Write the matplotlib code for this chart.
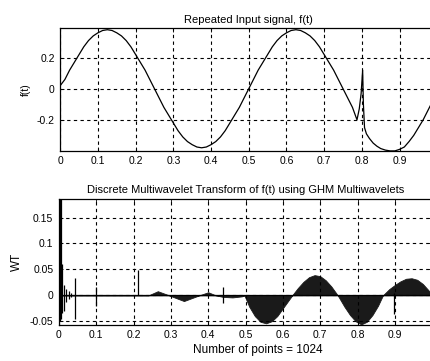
import matplotlib
matplotlib.use("Agg")
from matplotlib import pyplot as plt

plt.rcParams['font.family'] = ['Liberation Sans', 'DejaVu Sans']
plt.rcParams['font.size'] = 7.5

# Repeated input signal f(t)
sig_t = [0.0, 0.0125, 0.025, 0.0375, 0.05, 0.0625, 0.075, 0.0875, 0.1, 0.1125,
         0.125, 0.1375, 0.15, 0.1625, 0.175, 0.1875, 0.2, 0.2125, 0.225, 0.2375,
         0.25, 0.2625, 0.275, 0.2875, 0.3, 0.3125, 0.325, 0.3375, 0.35, 0.3625,
         0.375, 0.3875, 0.4, 0.4125, 0.425, 0.4375, 0.45, 0.4625, 0.475, 0.4875,
         0.5, 0.5125, 0.525, 0.5375, 0.55, 0.5625, 0.575, 0.5875, 0.6, 0.6125,
         0.625, 0.6375, 0.65, 0.6625, 0.675, 0.6875, 0.7, 0.7125, 0.725, 0.7375,
         0.75, 0.7625, 0.775, 0.787, 0.793, 0.798, 0.802, 0.804, 0.807, 0.812,
         0.82, 0.83, 0.84, 0.85, 0.8625, 0.875, 0.8875, 0.9, 0.9125, 0.925,
         0.9375, 0.95, 0.9625, 0.975, 0.9875, 1.0]
sig_v = [0.02, 0.06, 0.12, 0.17, 0.22, 0.27, 0.31, 0.34, 0.36, 0.375,
         0.38, 0.375, 0.36, 0.34, 0.31, 0.27, 0.22, 0.17, 0.12, 0.06,
         0.0, -0.06, -0.12, -0.17, -0.22, -0.27, -0.31, -0.34, -0.36, -0.375,
         -0.38, -0.375, -0.36, -0.34, -0.31, -0.27, -0.22, -0.17, -0.12, -0.06,
         0.0, 0.06, 0.12, 0.17, 0.22, 0.27, 0.31, 0.34, 0.36, 0.375,
         0.38, 0.375, 0.36, 0.34, 0.31, 0.27, 0.22, 0.17, 0.12, 0.06,
         0.0, -0.06, -0.12, -0.20, -0.13, -0.03, 0.12, -0.10, -0.25, -0.29,
         -0.32, -0.35, -0.37, -0.385, -0.395, -0.40, -0.40, -0.39, -0.375, -0.34,
         -0.30, -0.25, -0.20, -0.14, -0.08, -0.02]

# Envelope of the multiwavelet coefficients (dense oscillation drawn filled)
wt_t = [0.0, 0.24, 0.265, 0.295, 0.335, 0.376, 0.40, 0.42, 0.44, 0.465, 0.49,
        0.497, 0.51, 0.525, 0.54, 0.555, 0.57, 0.585, 0.60, 0.615, 0.625,
        0.64, 0.655, 0.67, 0.685, 0.70, 0.715, 0.73, 0.747,
        0.765, 0.78, 0.795, 0.81, 0.825, 0.84, 0.855, 0.868,
        0.885, 0.90, 0.915, 0.93, 0.945, 0.96, 0.975, 0.99, 1.0]
wt_v = [0.0, 0.0, 0.008, 0.0, -0.011, 0.0, 0.006, 0.0, -0.003, -0.004, -0.002,
        0.0, -0.022, -0.040, -0.051, -0.054, -0.050, -0.040, -0.025, -0.010, 0.0,
        0.014, 0.026, 0.035, 0.039, 0.037, 0.029, 0.017, 0.0,
        -0.022, -0.038, -0.050, -0.056, -0.051, -0.038, -0.020, 0.0,
        0.012, 0.020, 0.027, 0.032, 0.033, 0.030, 0.022, 0.010, 0.0]

# isolated spikes: position, low, high
spike_t = [0.002, 0.005, 0.009, 0.014, 0.02, 0.026, 0.033, 0.044, 0.10, 0.213, 0.44, 0.897]
spike_lo = [-0.05, -0.045, -0.035, -0.03, -0.012, -0.008, -0.004, -0.045, -0.02, 0.0, -0.015, -0.036]
spike_hi = [0.185, 0.185, 0.06, 0.02, 0.012, 0.008, 0.005, 0.033, 0.016, 0.048, 0.016, 0.004]

xticks = [0, 0.1, 0.2, 0.3, 0.4, 0.5, 0.6, 0.7, 0.8, 0.9, 1]
xticklabels = ['0', '0.1', '0.2', '0.3', '0.4', '0.5', '0.6', '0.7', '0.8', '0.9', '1']

fig = plt.figure(figsize=(4.30, 3.61), dpi=100)
ax1 = fig.add_axes([0.140, 0.582, 0.877, 0.340])
ax2 = fig.add_axes([0.137, 0.100, 0.868, 0.349])

grid_kw = dict(color='black', linestyle=(0, (3, 3)), linewidth=0.8)


def style(ax):
    ax.set_xlim(0, 1)
    ax.set_xticks(xticks)
    ax.set_xticklabels(xticklabels)
    ax.grid(True, **grid_kw)
    ax.tick_params(direction='in', length=3, width=0.6, pad=4, top=True, right=True)
    for s in ax.spines.values():
        s.set_linewidth(0.9)


ax1.plot(sig_t, sig_v, color='black', lw=0.9)
ax1.set_ylim(-0.40, 0.39)
ax1.set_yticks([-0.2, 0, 0.2])
ax1.set_yticklabels(['-0.2', '0', '0.2'])
style(ax1)
ax1.set_title('Repeated Input signal, f(t)', fontsize=8, pad=4)
ax1.set_ylabel('f(t)', fontsize=7.5, labelpad=4)

ax2.fill_between(wt_t, 0, wt_v, color='#1a1a1a', lw=0.6)
ax2.plot([0, 1], [0, 0], color='black', lw=0.9)
ax2.vlines(spike_t, spike_lo, spike_hi, color='black', lw=0.9)
ax2.set_ylim(-0.057, 0.186)
ax2.set_yticks([-0.05, 0, 0.05, 0.1, 0.15])
ax2.set_yticklabels(['-0.05', '0', '0.05', '0.1', '0.15'])
style(ax2)
ax2.set_title('Discrete Multiwavelet Transform of f(t) using GHM Multiwavelets',
              fontsize=8, pad=4)
ax2.set_ylabel('WT', fontsize=8.5, labelpad=5)
ax2.set_xlabel('Number of points = 1024', fontsize=8.5, labelpad=2)
ax2.xaxis.set_label_coords(0.534, -0.155)

fig.savefig('out.png', dpi=100)
